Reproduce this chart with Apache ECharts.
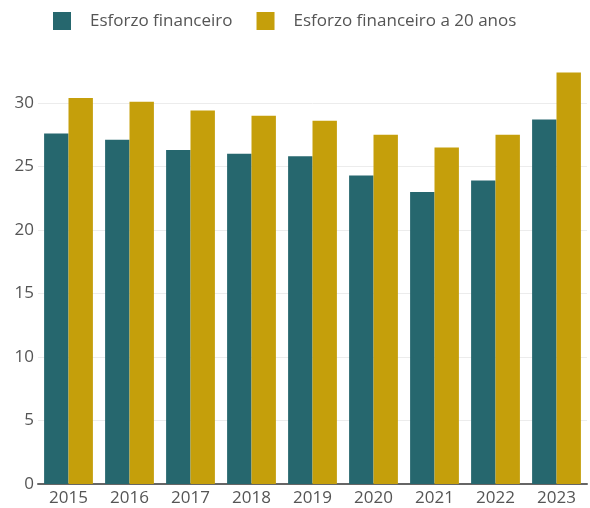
<!DOCTYPE html>
<html lang="pt">
<head>
    <meta charset="utf-8">
    <title>Esforzo financeiro</title>
    <script src="https://cdn.jsdelivr.net/npm/echarts@6/dist/echarts.min.js"></script>
    <style>
        html, body { margin: 0; padding: 0; background: #fff; }
        #chart { width: 590px; height: 508px; }
    </style>
</head>
<body>
    <div id="chart"></div>
    <script>
        // data
        var anos = ['2015', '2016', '2017', '2018', '2019', '2020', '2021', '2022', '2023'];
        var esforzo = [27.6, 27.1, 26.3, 26.0, 25.8, 24.3, 23.0, 23.9, 28.7];
        var esforzo20 = [30.4, 30.1, 29.4, 29.0, 28.6, 27.5, 26.5, 27.5, 32.4];
        var nomes = ['Esforzo financeiro', 'Esforzo financeiro a 20 anos'];

        var fonte = '"Open Sans", "Noto Sans", sans-serif';
        var myChart = echarts.init(document.getElementById('chart'));

        var option = {
            animation: false,
            textStyle: { fontFamily: fonte },
            legend: {
                data: nomes,
                left: 48,
                top: 7,
                itemWidth: 18,
                itemHeight: 18,
                itemGap: 24,
                icon: 'rect',
                textStyle: {
                    fontFamily: fonte,
                    fontSize: 17,
                    color: '#555',
                    padding: [0, 0, 0, 14]
                }
            },
            grid: { left: 38, right: 3, top: 103, bottom: 24, containLabel: false },
            xAxis: {
                type: 'category',
                data: anos,
                axisTick: { show: false },
                axisLine: { lineStyle: { color: '#666', width: 2 } },
                axisLabel: { color: '#555', fontSize: 17, margin: 6, fontFamily: fonte }
            },
            yAxis: {
                type: 'value',
                min: 0,
                max: 30,
                interval: 5,
                axisLine: { show: false },
                axisTick: { show: false },
                axisLabel: { color: '#555', fontSize: 17, margin: 4, fontFamily: fonte },
                splitLine: { lineStyle: { color: '#ececec', width: 1 } }
            },
            series: [
                {
                    name: nomes[0],
                    type: 'bar',
                    data: esforzo,
                    itemStyle: { color: '#26676e' },
                    barGap: '0%',
                    barCategoryGap: '20%',
                    clip: false
                },
                {
                    name: nomes[1],
                    type: 'bar',
                    data: esforzo20,
                    itemStyle: { color: '#c59f0b' },
                    clip: false
                }
            ]
        };

        myChart.setOption(option);
    </script>
</body>
</html>
